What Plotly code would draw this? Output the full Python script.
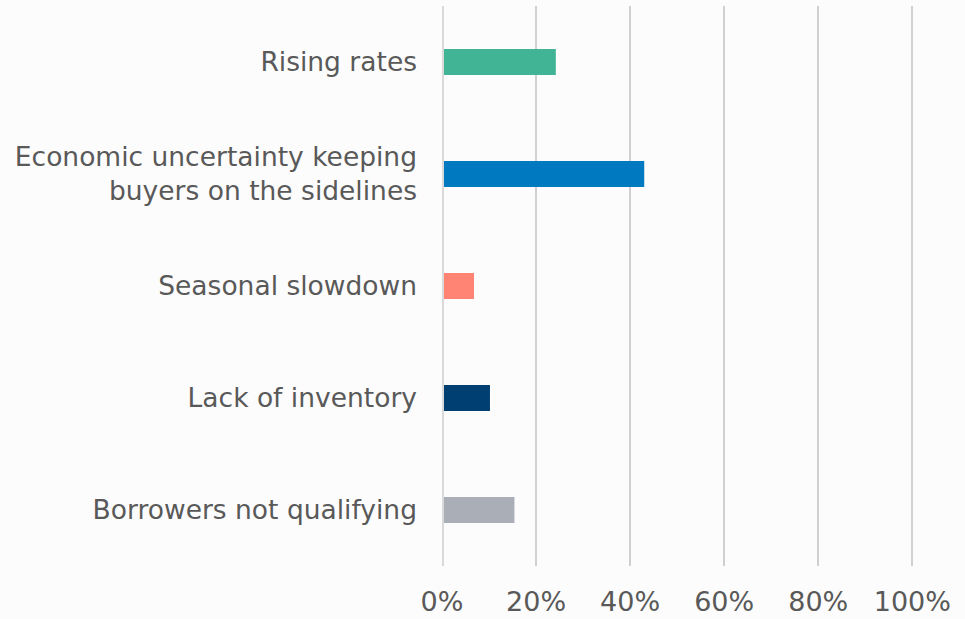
import plotly.graph_objects as go

categories = ["Rising rates",
              "Economic uncertainty keeping<br>buyers on the sidelines",
              "Seasonal slowdown",
              "Lack of inventory",
              "Borrowers not qualifying"]
values = [24.2, 43.0, 6.8, 10.2, 15.4]
colors = ["#41B496", "#0079C1", "#FF8474", "#003F72", "#A9AEB7"]
tick_vals = [0, 20, 40, 60, 80, 100]
tick_text = ["0%", "20%", "40%", "60%", "80%", "100%"]

fig = go.Figure(go.Bar(
    y=categories, x=values, orientation="h",
    marker=dict(color=colors, line=dict(width=0)),
    width=0.232,
))

font_family = "DejaVu Sans, Arial, sans-serif"
fig.update_layout(
    width=965, height=619,
    margin=dict(l=442, r=48, t=6, b=53),
    paper_bgcolor="#fcfcfc", plot_bgcolor="#fcfcfc",
    showlegend=False,
    font=dict(family=font_family, color="#595959"),
)
fig.update_xaxes(
    range=[0, 101], tickvals=tick_vals, ticktext=tick_text,
    showgrid=True, gridcolor="#d0d0d0", gridwidth=1.5,
    zeroline=False, showline=False,
    tickfont=dict(size=27, color="#595959"),
    ticklabelstandoff=17,
    automargin=False,
    fixedrange=True,
)
fig.update_yaxes(
    categoryorder="array", categoryarray=categories, autorange="reversed",
    showgrid=False, zeroline=False, showline=False,
    tickfont=dict(size=26.5, color="#595959"),
    ticklabelstandoff=24,
    automargin=False,
)
fig.add_shape(type="line", xref="x", yref="paper", x0=0, x1=0, y0=0, y1=1,
              line=dict(color="#d9d9d9", width=4))
fig.write_html("out.html")
